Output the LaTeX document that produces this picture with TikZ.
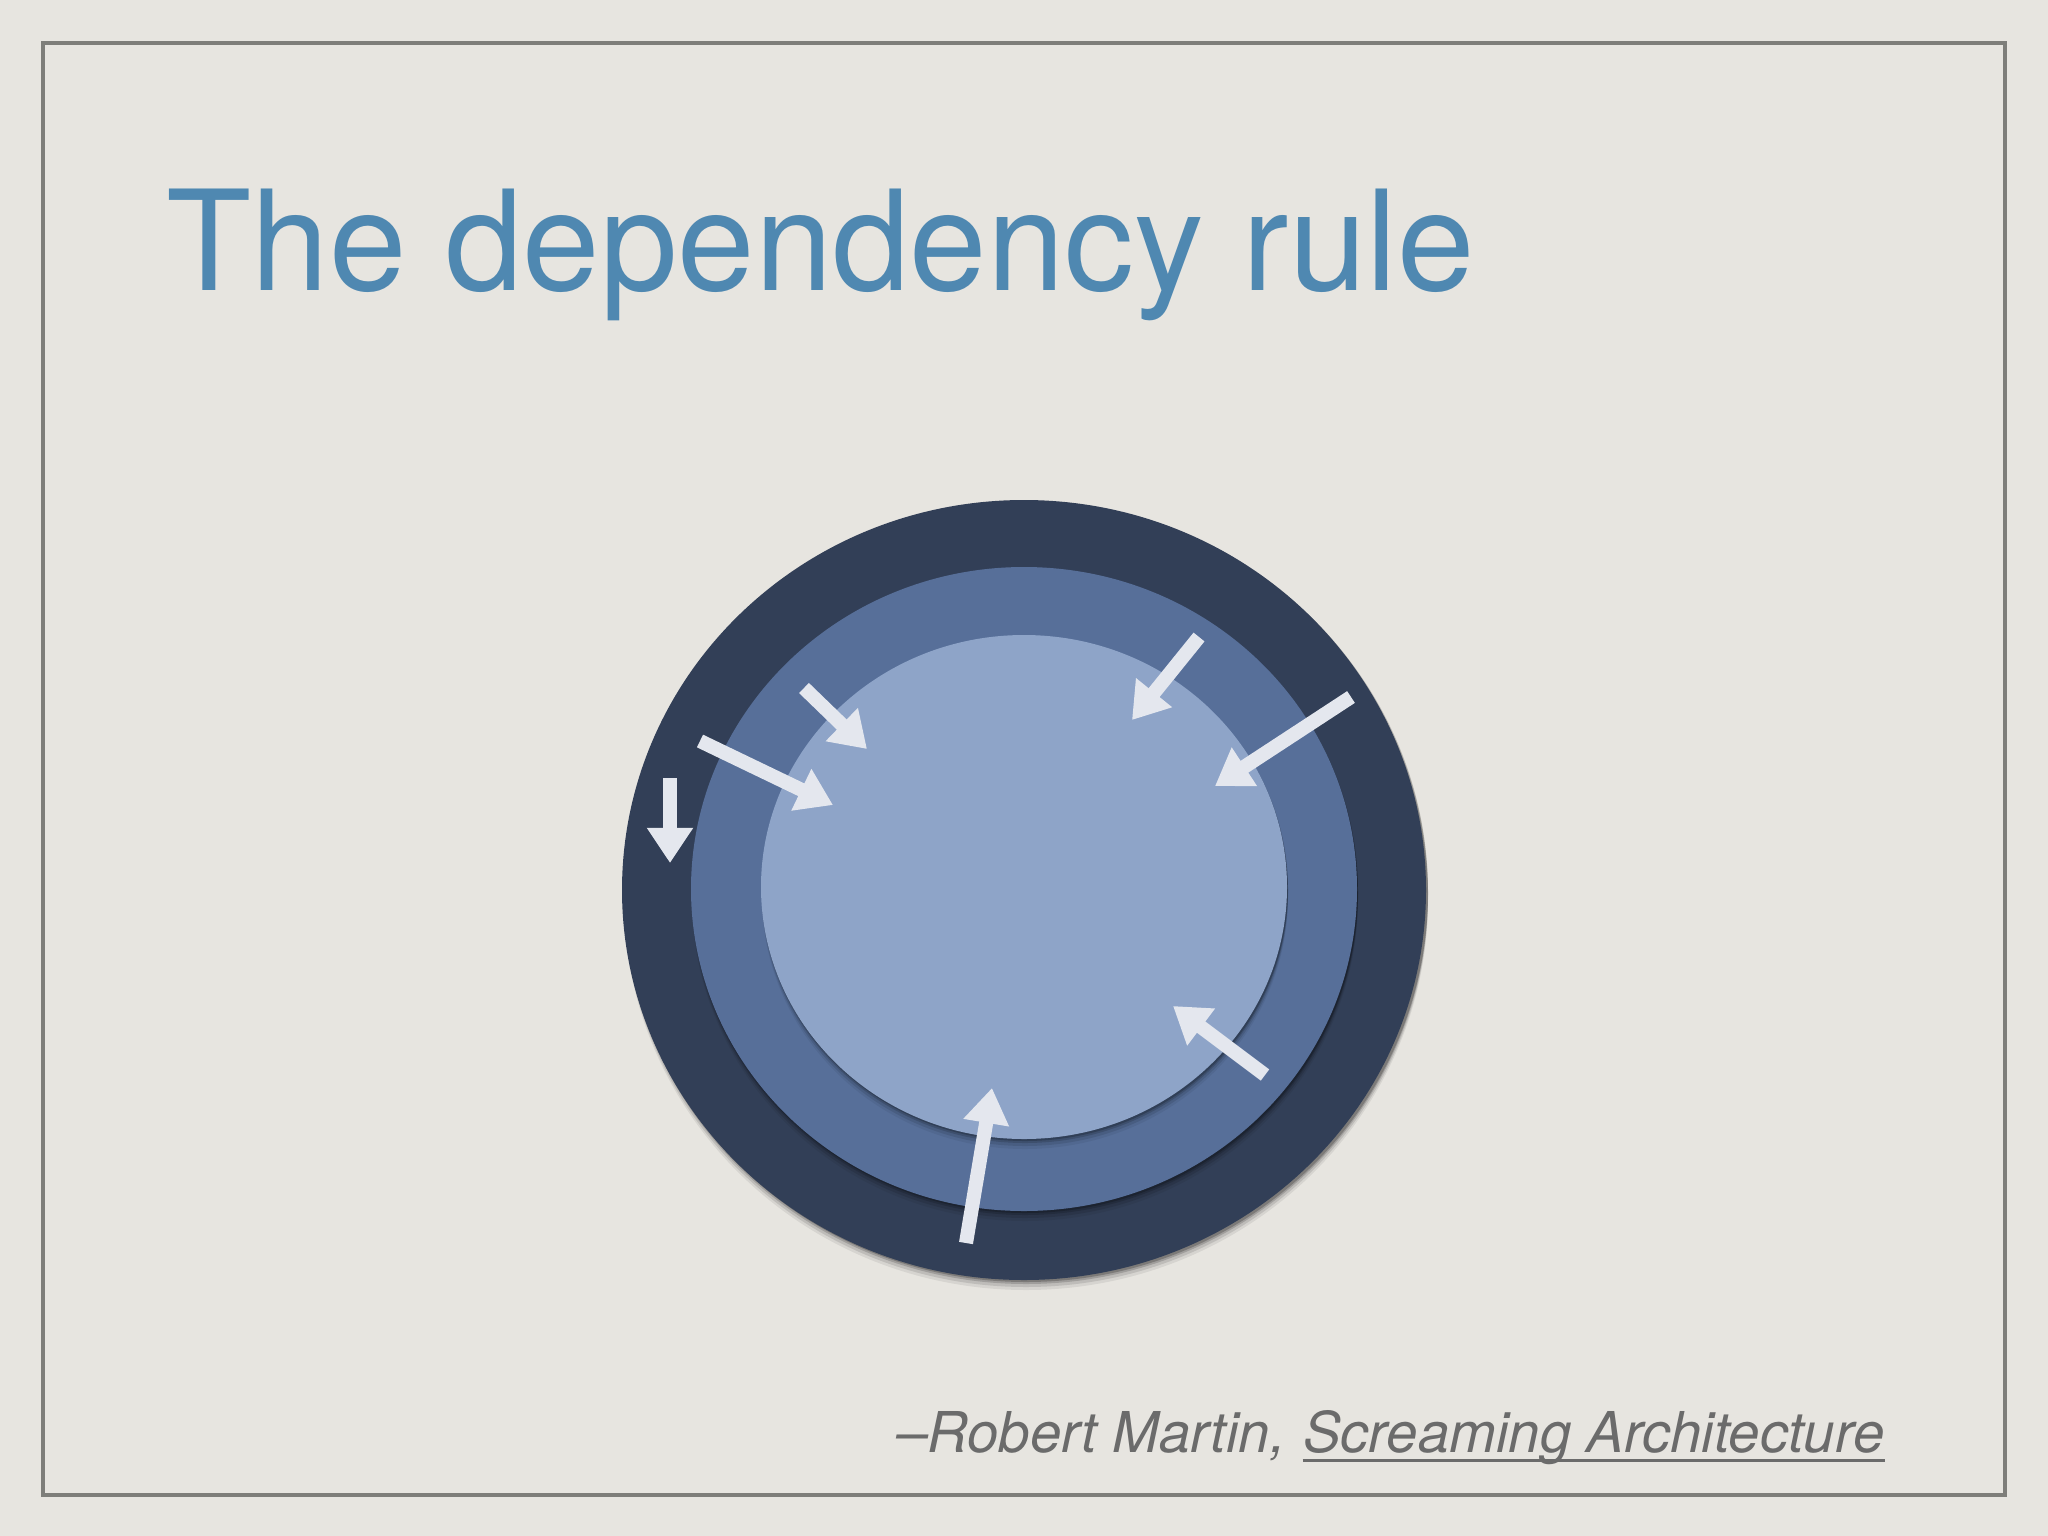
\documentclass[tikz,border=0pt]{standalone}
\usepackage{fontspec}
\setmainfont{TeX Gyre Heros}
\usetikzlibrary{arrows.meta}
\definecolor{bg}{HTML}{E7E5E0}
\definecolor{framec}{HTML}{7E7E7A}
\definecolor{titlec}{HTML}{4F88B1}
\definecolor{quotec}{HTML}{6B6B6B}
\definecolor{ringouter}{HTML}{323F57}
\definecolor{ringmid}{HTML}{576F99}
\definecolor{ringinner}{HTML}{8EA4C8}
\definecolor{arrowc}{HTML}{E4E7EE}
\tikzset{
  framebox/.style={draw=framec, line width=1.1pt},
  depArrow/.style={draw=arrowc, line width=4pt, -{Triangle[length=10pt,width=12.5pt]}},
  shadowdisc/.style={fill=black},
}
\begin{document}
\begin{tikzpicture}[x=0.01cm,y=-0.01cm]
\fill[bg] (0,0) rectangle (2048,1536);
\useasboundingbox (0,0) rectangle (2048,1536);
\draw[framebox] (43,43) rectangle (2005,1495);

% title
\node[anchor=base west, inner sep=0, text=titlec, font=\fontsize{39.6}{44}\selectfont] (title) at (166,290) {The dependency rule};

% discs with drop shadows
\foreach \d/\o in {10/0.07, 7/0.11, 4/0.16, 2/0.22} {
  \fill[shadowdisc, opacity=\o] (1026,890+\d) ellipse[x radius=402, y radius=390];
}
\fill[ringouter] (1024,890) ellipse[x radius=402, y radius=390];
\foreach \d/\o in {10/0.06, 7/0.1, 4/0.15, 2/0.2} {
  \fill[shadowdisc, opacity=\o] (1025,889+\d) ellipse[x radius=333, y radius=322];
}
\fill[ringmid] (1024,889) ellipse[x radius=333, y radius=322];
\foreach \d/\o in {10/0.06, 7/0.1, 4/0.15, 2/0.2} {
  \fill[shadowdisc, opacity=\o] (1025,887+\d) ellipse[x radius=263, y radius=252];
}
\fill[ringinner] (1024,887) ellipse[x radius=263, y radius=252];

% arrow end points
\coordinate (a1s) at (670,778);  \coordinate (a1e) at (670,863);
\coordinate (a2s) at (700,741);  \coordinate (a2e) at (833,805);
\coordinate (a3s) at (804,688);  \coordinate (a3e) at (867,749);
\coordinate (a4s) at (1199,637); \coordinate (a4e) at (1132,720);
\coordinate (a5s) at (1351,697); \coordinate (a5e) at (1215,786);
\coordinate (a6s) at (1265,1075); \coordinate (a6e) at (1173,1006);
\coordinate (a7s) at (966,1243); \coordinate (a7e) at (992,1088);
\foreach \i in {1,...,7} { \draw[depArrow] (a\i s) -- (a\i e); }

% quote
\node[anchor=base east, inner sep=0, text=quotec, font=\fontsize{16}{19}\selectfont\itshape] (qsrc) at (1885,1452) {Screaming Architecture};
\node[anchor=base east, inner sep=0, text=quotec, font=\fontsize{16}{19}\selectfont\itshape] (qauth) at ([xshift=-4.6pt]qsrc.base west) {–Robert Martin,};
\coordinate (ul1) at ([yshift=-2.4pt]qsrc.base west);
\coordinate (ul2) at ([yshift=-2.4pt]qsrc.base east);
\draw[quotec, line width=0.7pt] (ul1) -- (ul2);
\end{tikzpicture}
\end{document}
